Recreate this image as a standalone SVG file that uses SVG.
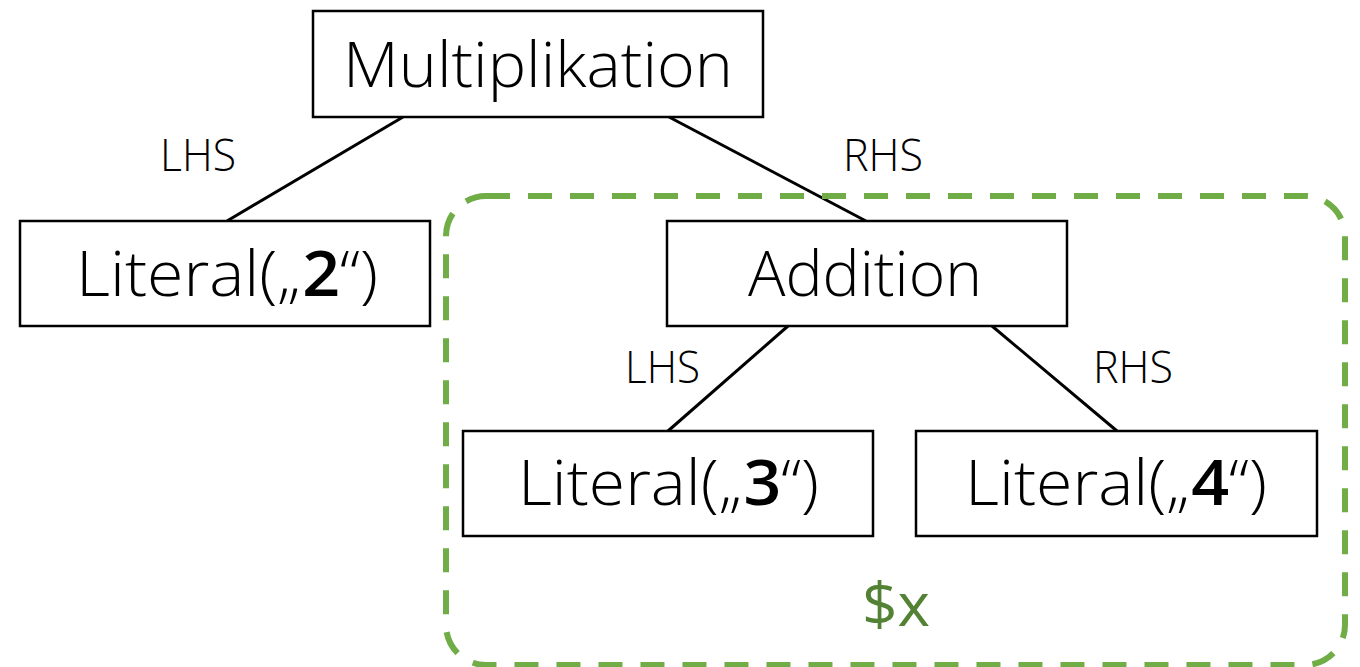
<svg xmlns="http://www.w3.org/2000/svg" width="1360" height="667" viewBox="0 0 1360 667">
<style>
.box{fill:#fff;stroke:#000;stroke-width:2.5}
.lbl{font-family:"Open Sans","Noto Sans",sans-serif;font-weight:300;font-size:63px;fill:#000;text-anchor:start}
.edge{font-family:"Open Sans","Noto Sans",sans-serif;font-weight:300;font-size:44px;fill:#000}
.b{font-weight:600}
.con line{stroke:#000;stroke-width:3}
</style>
<rect width="1360" height="667" fill="#fff"/>
<g id="connectors" class="con">
<line x1="403" y1="117" x2="227" y2="221"/>
<line x1="669" y1="117" x2="866" y2="221"/>
<line x1="788" y1="326" x2="668" y2="431"/>
<line x1="992" y1="326" x2="1117" y2="431"/>
</g>
<g id="edge-labels">
<text class="edge" x="160" y="171" textLength="76" lengthAdjust="spacingAndGlyphs">LHS</text>
<text class="edge" x="843" y="171" textLength="80" lengthAdjust="spacingAndGlyphs">RHS</text>
<text class="edge" x="625" y="383" textLength="75" lengthAdjust="spacingAndGlyphs">LHS</text>
<text class="edge" x="1093" y="383" textLength="80" lengthAdjust="spacingAndGlyphs">RHS</text>
</g>
<g id="group-x">
<rect x="446" y="196" width="899" height="469" rx="40" ry="40" fill="none" stroke="#70ad47" stroke-width="6" stroke-dasharray="24 18"/>
<text x="862" y="626" font-family="'Open Sans','Noto Sans',sans-serif" font-weight="400" font-size="61" fill="#548235" textLength="68" lengthAdjust="spacingAndGlyphs">$x</text>
</g>
<g id="n-mult">
<rect class="box" x="313" y="11" width="450" height="106"/>
<text class="lbl" x="343" y="87" textLength="390" lengthAdjust="spacingAndGlyphs">Multiplikation</text>
</g>
<g id="n-lit2">
<rect class="box" x="20" y="221" width="410" height="105"/>
<text class="lbl" x="76" y="296" textLength="302" lengthAdjust="spacingAndGlyphs">Literal(„<tspan class="b">2</tspan>“)</text>
</g>
<g id="n-add">
<rect class="box" x="667" y="221" width="400" height="105"/>
<text class="lbl" x="748" y="296" textLength="234" lengthAdjust="spacingAndGlyphs">Addition</text>
</g>
<g id="n-lit3">
<rect class="box" x="463" y="431" width="410" height="105"/>
<text class="lbl" x="518" y="505" textLength="301" lengthAdjust="spacingAndGlyphs">Literal(„<tspan class="b">3</tspan>“)</text>
</g>
<g id="n-lit4">
<rect class="box" x="916" y="431" width="401" height="105"/>
<text class="lbl" x="965" y="505" textLength="302" lengthAdjust="spacingAndGlyphs">Literal(„<tspan class="b">4</tspan>“)</text>
</g>
</svg>
